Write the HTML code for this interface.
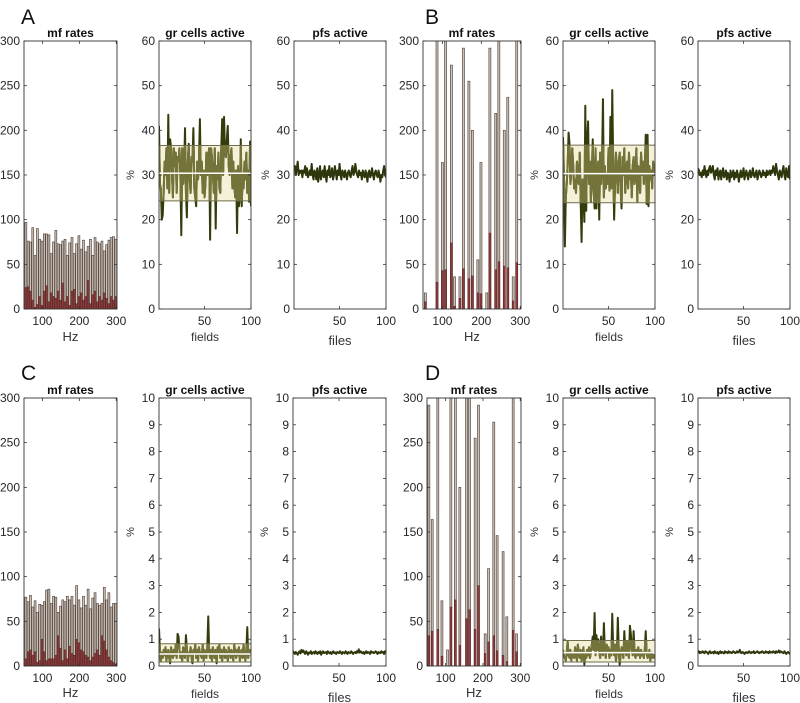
<!DOCTYPE html>
<html><head><meta charset="utf-8"><style>
html,body{margin:0;padding:0;background:#fff;}
svg{display:block;font-family:"Liberation Sans",sans-serif;}
</style></head><body>
<svg id="fig" width="800" height="703" viewBox="0 0 800 703" xmlns="http://www.w3.org/2000/svg"></svg>
<script>
// ---- data ----
const mfHzA = Array.from({length:40},(_,i)=>55+i*6.25);
const mfGrayA = [97,76,75,91,60,90,78,76,84,84,83,62,75,88,73,72,76,78,60,74,80,62,73,82,67,77,64,70,78,60,80,75,73,76,65,72,77,80,81,78];
const mfRedA = [24,25,20,10,2,5,14,4,20,26,8,18,14,12,20,10,29,8,14,4,20,22,6,14,18,10,14,32,6,16,20,8,14,10,18,12,6,14,10,14];
const mfHzB = [56,86,100,108,123,131,145,154,168,177,191,199,214,222,237,245,259,268,282,291];
const mfGrayB = [18,310,164,310,273,36,36,292,255,200,55,164,18,292,219,310,200,237,36,310];
const mfRedB = [8,30,43,44,74,3,12,45,34,37,18,17,0,85,44,53,48,46,9,52];
const mfHzC = mfHzA;
const mfGrayC = [77,72,79,66,73,60,69,68,72,85,86,70,78,77,60,67,74,72,78,74,78,68,90,74,65,78,68,86,64,76,82,70,68,70,88,74,82,66,70,70];
const mfRedC = [8,16,18,12,16,4,6,30,16,6,8,8,8,12,34,20,6,18,8,22,14,12,30,26,18,16,12,10,6,10,14,18,12,34,28,18,10,6,4,2];
const mfHzD = [55,64,79,90,105,114,126,138,156,164,179,188,206,215,229,238,254,264,281,290];
const mfGrayD = [292,164,310,73,18,310,310,200,310,310,255,292,36,109,273,146,128,55,310,36];
const mfRedD = [34,39,41,11,0,66,74,23,53,63,41,90,14,27,34,17,12,5,40,16];

const grA = [41,28,27,20,21,26,33,30,36,27,43.5,26,38,36,30,25,36,32,35,26,34,33,36,30,16.5,36,28,31,40.5,26,20.5,33,37,29,26,34,33,40.5,27,25,23,33,29,33,42.5,30,33,26,31,25,28,35,30,34,36,15.5,36,34,30,26,36,18,32,29,35,27,26,36,42.5,30,43,35,34,38,41,32,30,34,36,27,33,28,25,31,17,32,23,25,38,23,30,27,33,29,35,26,31,24,37.5,23];
const grB = [38.5,30,14,25,28,32,39.5,37,28,31,36,32,27,29,26,33,30,28,35,24,15,29,25,19.5,45.5,22,38,42,28,33,24,30,38,27,22.5,36,22.5,30,33,20,35,28,33,47,25,32,27,30,28,36,26.5,43,27,49,33,20,28,35,30,26,33,35,27,22.5,34,30,36,26,31,33,27,35,29,31,25,32,34,28,30,36,24,32,29,26,35,30,33,28,31,39,23.5,39,23,32,29,31,27,33,30,32];
const grC = [1.4,0.6,0.2,0.5,0.3,0.6,0.4,0.7,0.2,0.5,0.6,0.3,0.1,0.7,0.5,0.3,0.6,0.4,0.8,0.3,1.2,1.1,0.6,0.3,0.5,0.2,0.7,0.4,0.3,1.15,0.6,0.2,0.5,0.4,0.7,0.3,0.1,0.6,0.5,0.8,0.3,0.6,0.2,0.7,0.5,0.4,0.3,0.8,0.2,0.6,0.4,0.3,0.7,1.85,0.5,0.3,0.6,0.2,0.7,0.4,0.3,0.6,0.1,0.7,0.5,0.8,0.3,0.6,0.2,0.5,0.7,0.3,0.6,0.4,0.2,0.7,0.5,0.3,0.6,0.4,0.2,0.8,0.5,0.3,0.6,0.4,0.7,0.2,0.5,0.6,0.3,0.8,0.4,0.2,0.6,1.45,0.3,0.5,0.6,0.4];
const grD = [0.6,0.4,0.3,0.2,0.5,0.9,0.4,0.3,0.6,0.2,0.5,0.4,0.3,0.7,0.4,0.2,0.8,0.5,0.3,0.6,0.2,0.4,0.7,0.05,0.5,0.3,0.6,0.4,0.7,0.3,0.5,0.8,1.1,0.6,1.98,0.4,1.15,0.6,1.0,0.5,0.3,1.1,0.5,0.4,1.6,0.6,0.3,0.8,0.5,0.7,0.3,0.6,0.4,1.95,0.7,0.4,0.8,0.2,0.5,1.8,0.6,0.05,0.4,0.7,0.5,0.3,1.3,0.6,0.4,0.9,0.5,0.3,1.5,1.2,0.6,0.4,1.3,0.5,0.3,0.6,0.4,0.7,0.5,0.3,0.6,0.4,0.5,0.3,0.6,1.3,0.5,0.3,0.4,0.6,0.2,0.4,0.5,0.3,0.4,0.3];
const grBandA = [24.2,30.4,36.6];
const grBandB = [23.8,30.3,36.7];
const grBandC = [0.15,0.45,0.83];
const grBandD = [0.15,0.5,0.95];

const pfA = [31.5,32,30,31.5,33,30,31,30.5,31,29.5,31,30.5,32,30,31.5,29.5,30,31,30,32.5,30,29,31,30.5,29,31.5,28.5,30,32,29,30.5,31,29.5,32,30,28.5,31,30,32,29.5,30,31.5,29,30,32,30.5,29,31,30,32.5,30,29,31,30.5,29.5,31,30,29,30.5,31,30,29.5,31,32,30,30.5,32.5,31,30,29.5,31,30,30.5,29,31,30,29.5,31,30,28.5,30.5,31,29.5,30,31.5,30,29,30.5,31,30,29.5,31,30,28.5,30,29.5,31,32,30,29.5];
const pfB = [31.5,31,30,30.5,29.5,31,30,32,30.5,29.5,31,30,31.5,32,30.5,31,32,30,29,31,30,31.5,29,30.5,31,29,30.5,31.5,29.5,30,31,29,30.5,30,28.5,31,29.5,30,31,29,30.5,29.5,31,30,28.5,30,31,29.5,30,31.5,29,30,31,30,29,30.5,31,29.5,30,31.5,30,29.5,30.5,31,29,30,31,30.5,29.5,30,31,30,30.5,29.5,31,30,30.5,31,30,31,30.5,32,31,30,32.5,31,30,29,31,30.5,29.5,31,32,30,29,31.5,30,29.5,32,29];
const pfC = [0.55,0.5,0.45,0.52,0.48,0.42,0.5,0.55,0.47,0.6,0.52,0.58,0.5,0.45,0.55,0.5,0.42,0.5,0.48,0.55,0.45,0.5,0.52,0.46,0.55,0.5,0.45,0.52,0.48,0.55,0.42,0.5,0.55,0.48,0.5,0.52,0.45,0.55,0.5,0.47,0.52,0.45,0.5,0.55,0.48,0.5,0.45,0.52,0.5,0.48,0.55,0.5,0.45,0.52,0.5,0.47,0.55,0.5,0.45,0.52,0.5,0.48,0.55,0.5,0.45,0.5,0.52,0.48,0.55,0.5,0.62,0.5,0.55,0.5,0.48,0.52,0.45,0.5,0.55,0.48,0.52,0.5,0.45,0.55,0.5,0.52,0.48,0.5,0.55,0.5,0.45,0.52,0.5,0.48,0.55,0.5,0.52,0.45,0.55,0.5];
const pfD = [0.5,0.55,0.48,0.52,0.5,0.55,0.5,0.48,0.55,0.52,0.5,0.45,0.52,0.55,0.48,0.5,0.52,0.47,0.55,0.5,0.48,0.52,0.45,0.5,0.55,0.48,0.52,0.5,0.47,0.55,0.5,0.52,0.48,0.55,0.5,0.52,0.48,0.5,0.55,0.52,0.48,0.5,0.55,0.5,0.52,0.6,0.5,0.48,0.52,0.5,0.45,0.5,0.52,0.48,0.5,0.55,0.5,0.48,0.52,0.5,0.55,0.48,0.5,0.52,0.55,0.5,0.48,0.52,0.5,0.55,0.52,0.48,0.5,0.55,0.5,0.52,0.48,0.55,0.5,0.52,0.5,0.55,0.52,0.48,0.55,0.5,0.52,0.58,0.5,0.55,0.52,0.5,0.48,0.55,0.5,0.45,0.5,0.52,0.48,0.45];

const mfTicksY = [0,50,100,150,200,250,300];
const mfTicksX = [100,200,300];
const topTicksY = [0,10,20,30,40,50,60];
const botTicksY = [0,1,2,3,4,5,6,7,8,9,10];
const lineTicksX = [50,100];

// ---- drawing ----
const NS = "http://www.w3.org/2000/svg";
const svg = document.getElementById('fig');
function mk(tag, attrs, parent, text){
  const e = document.createElementNS(NS, tag);
  for (const k in attrs) e.setAttribute(k, attrs[k]);
  if (text !== undefined) e.textContent = text;
  (parent||svg).appendChild(e);
  return e;
}
function lin(d0,d1,r0,r1){ return v => r0 + (v-d0)/(d1-d0)*(r1-r0); }

let clipId = 0;
function axesFrame(g, L, R, T, B, xs, ys, xt, yt, title, xlabel, xlabY, xlabSize, pct){
  const ticks = mk('g',{}, g);
  
  
  yt.forEach(v=>{
    const y = ys(v);
    mk('line',{x1:L,x2:L+3,y1:y,y2:y,stroke:'#333','stroke-width':0.8},ticks);
    mk('line',{x1:R,x2:R-3,y1:y,y2:y,stroke:'#333','stroke-width':0.8},ticks);
    const t = mk('text',{x:L-4,y:y+4,'text-anchor':'end','font-size':12,fill:'#262626'},ticks,String(v));
    
    
  });
  const xtg = mk('g',{}, g);
  
  
  xt.forEach(v=>{
    const x = xs(v);
    mk('line',{x1:x,x2:x,y1:B,y2:B-3,stroke:'#333','stroke-width':0.8},xtg);
    mk('line',{x1:x,x2:x,y1:T,y2:T+3,stroke:'#333','stroke-width':0.8},xtg);
    const t = mk('text',{x:x,y:B+16,'text-anchor':'middle','font-size':12,fill:'#262626'},xtg,String(v));
    
    
  });
  const box = mk('rect',{x:L,y:T,width:R-L,height:B-T,fill:'none',stroke:'#333','stroke-width':0.9},g);
  
  
  const tt = mk('text',{x:(L+R)/2,y:T-4,'text-anchor':'middle','font-size':12,'font-weight':'bold',fill:'#111'},g,title);
  
  
  if (xlabel){
    const xl = mk('text',{x:(L+R)/2,y:xlabY,'text-anchor':'middle','font-size':xlabSize,fill:'#333'},g,xlabel);
    
    
  }
  if (pct){
    const cy=(T+B)/2, cx=L-25;
    const p = mk('text',{x:cx,y:cy,'text-anchor':'middle','font-size':11,fill:'#333',transform:`rotate(-90 ${cx} ${cy})`},g,'%');
    
    
  }
}

function mfPanel(name, L, R, T, B, hz, gray, red, xlabY){
  const g = mk('g',{});
  
  
  const xs = lin(50,302,L,R), ys = lin(0,300,B,T);
  const id = 'c'+(clipId++);
  const cp = mk('clipPath',{id:id},g); mk('rect',{x:L,y:T,width:R-L,height:B-T},cp);
  const bars = mk('g',{'clip-path':`url(#${id})`},g);
  const bw = 5.2*(R-L)/252;
  hz.forEach((h,i)=>{
    const x = xs(h)-bw/2;
    const b1 = mk('rect',{x:x,y:ys(gray[i]),width:bw,height:B-ys(gray[i]),fill:'#cbc3b7',stroke:'#5a4a44','stroke-width':0.7},bars);
    
    
    const b2 = mk('rect',{x:x,y:ys(red[i]),width:bw,height:B-ys(red[i]),fill:'#8b3d3d',stroke:'#5a2020','stroke-width':0.5},bars);
    
    
  });
  axesFrame(g,L,R,T,B,xs,ys,mfTicksX,mfTicksY,'mf rates','Hz',xlabY,13,false);
}

function linePanel(name, title, L, R, T, B, ymax, yt, vals, band, xlabel, xlabY){
  const g = mk('g',{});
  
  
  const xs = lin(1,100,L,R), ys = lin(0,ymax,B,T);
  const id = 'c'+(clipId++);
  const cp = mk('clipPath',{id:id},g); mk('rect',{x:L,y:T,width:R-L,height:B-T},cp);
  const inner = mk('g',{'clip-path':`url(#${id})`},g);
  const d = vals.map((v,i)=>(i?'L':'M')+xs(i+1).toFixed(2)+' '+ys(v).toFixed(2)).join(' ');
  if (band){
    const br = mk('rect',{x:L,y:ys(band[2]),width:R-L,height:ys(band[0])-ys(band[2]),fill:'#f4f1d8'},inner);
    
    
    const dl = mk('path',{d:d,fill:'none',stroke:'#333d0c','stroke-width':2,'stroke-linejoin':'round'},inner);
    
    
    const id2='c'+(clipId++);
    const cp2 = mk('clipPath',{id:id2},g); mk('rect',{x:L,y:ys(band[2]),width:R-L,height:ys(band[0])-ys(band[2])},cp2);
    mk('path',{d:d,fill:'none',stroke:'#74743a','stroke-width':2,'stroke-linejoin':'round','clip-path':`url(#${id2})`},inner);
    [band[0],band[2]].forEach(v=>{
      const l = mk('line',{x1:L,x2:R,y1:ys(v),y2:ys(v),stroke:'#6e6e4a','stroke-width':1},inner);
      
      
    });
    const m = mk('line',{x1:L,x2:R,y1:ys(band[1]),y2:ys(band[1]),stroke:'#fff','stroke-width':1.5},inner);
    
    
  } else {
    const dl = mk('path',{d:d,fill:'none',stroke:'#2e370b','stroke-width':2,'stroke-linejoin':'round'},inner);
    
    
  }
  axesFrame(g,L,R,T,B,xs,ys,lineTicksX,yt,title,xlabel,xlabY,xlabel==='files'?13:12,true);
}

function letter(t,x,y){
  const e = mk('text',{x:x,y:y,'font-size':21,fill:'#111'},svg,t);
  
  
}
letter('A',21,24); letter('B',425,24); letter('C',21,380); letter('D',425,380);

// top row
mfPanel('panel-a-mf-rates',24,117,41,309,mfHzA,mfGrayA,mfRedA,341);
linePanel('panel-a-gr-cells','gr cells active',159,251,41,309,60,topTicksY,grA,grBandA,'fields',341);
linePanel('panel-a-pfs','pfs active',294,386,41,309,60,topTicksY,pfA,null,'files',345);
mfPanel('panel-b-mf-rates',423,521,41,309,mfHzB,mfGrayB,mfRedB,341);
linePanel('panel-b-gr-cells','gr cells active',563,655,41,309,60,topTicksY,grB,grBandB,'fields',341);
linePanel('panel-b-pfs','pfs active',698,790,41,309,60,topTicksY,pfB,null,'files',345);
// bottom row
mfPanel('panel-c-mf-rates',24,117,398,666,mfHzC,mfGrayC,mfRedC,697);
linePanel('panel-c-gr-cells','gr cells active',159,251,398,666,10,botTicksY,grC,grBandC,'fields',698);
linePanel('panel-c-pfs','pfs active',293,386,398,666,10,botTicksY,pfC,null,'files',702);
mfPanel('panel-d-mf-rates',427,521,398,666,mfHzD,mfGrayD,mfRedD,697);
linePanel('panel-d-gr-cells','gr cells active',563,655,398,666,10,botTicksY,grD,grBandD,'fields',698);
linePanel('panel-d-pfs','pfs active',698,790,398,666,10,botTicksY,pfD,null,'files',702);
</script>
</body></html>
